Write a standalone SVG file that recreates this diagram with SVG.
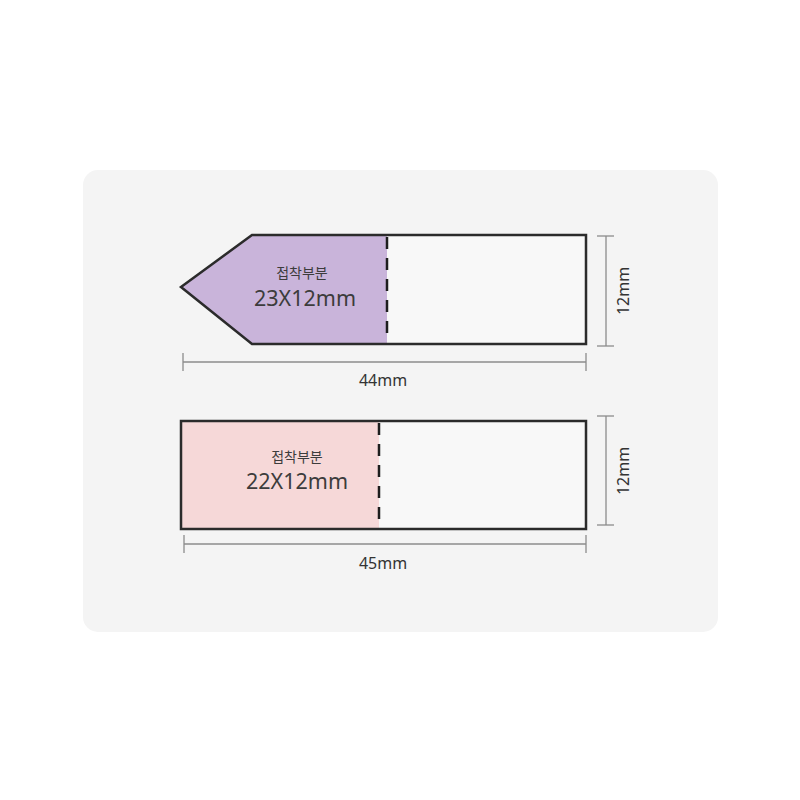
<svg xmlns="http://www.w3.org/2000/svg" width="800" height="800" viewBox="0 0 800 800">
<style>
.outline{fill:none;stroke:#2b2b2b;stroke-width:2.5;stroke-linejoin:miter}
.dash{stroke:#1e1e1e;stroke-width:2.5;stroke-dasharray:12,9;fill:none}
.dim{stroke:#8c8c8c;stroke-width:1.3;fill:none}
.lbl{font-family:"Noto Sans","Noto Sans CJK KR",sans-serif;fill:#3c3c3c;text-anchor:middle}
.small{font-size:14px}
.big{font-size:21.5px}
.dimt{font-family:"Noto Sans",sans-serif;font-size:16px;fill:#333;text-anchor:middle}
</style>
<rect width="800" height="800" fill="#ffffff"/>
<rect x="83" y="170" width="635" height="462" rx="15" fill="#f4f4f4"/>
<g id="tab-arrow">
<path d="M181,287 L252,235 L387,235 L387,344 L252,344 Z" fill="#c9b4da"/>
<rect x="387" y="235" width="199" height="109" fill="#f8f8f8"/>
<path class="outline" d="M181,287 L252,235 L586,235 L586,344 L252,344 Z"/>
<line class="dash" x1="387" y1="237" x2="387" y2="342"/>
<text class="lbl small" x="302" y="278">접착부분</text>
<text class="lbl big" x="305" y="306">23X12mm</text>
</g>
<g id="tab-rect">
<rect x="181" y="421" width="198" height="108" fill="#f6d8d8"/>
<rect x="379" y="421" width="207" height="108" fill="#f8f8f8"/>
<rect class="outline" x="181" y="421" width="405" height="108"/>
<line class="dash" x1="379" y1="423" x2="379" y2="527"/>
<text class="lbl small" x="297" y="462">접착부분</text>
<text class="lbl big" x="297" y="489">22X12mm</text>
</g>
<g id="connectors">
<line class="dim" x1="183" y1="362" x2="586" y2="362"/>
<line class="dim" x1="183" y1="353" x2="183" y2="371"/>
<line class="dim" x1="586" y1="353" x2="586" y2="371"/>
<line class="dim" x1="606" y1="236" x2="606" y2="346"/>
<line class="dim" x1="597" y1="236" x2="614" y2="236"/>
<line class="dim" x1="597" y1="346" x2="614" y2="346"/>
<line class="dim" x1="184" y1="544" x2="586" y2="544"/>
<line class="dim" x1="184" y1="535" x2="184" y2="553"/>
<line class="dim" x1="586" y1="535" x2="586" y2="553"/>
<line class="dim" x1="606" y1="416" x2="606" y2="525"/>
<line class="dim" x1="597" y1="416" x2="614" y2="416"/>
<line class="dim" x1="597" y1="525" x2="614" y2="525"/>
</g>
<g id="labels">
<text class="dimt" x="383" y="386">44mm</text>
<text class="dimt" x="383" y="569">45mm</text>
<text class="dimt" transform="translate(629,291) rotate(-90)">12mm</text>
<text class="dimt" transform="translate(629,471) rotate(-90)">12mm</text>
</g>
</svg>
